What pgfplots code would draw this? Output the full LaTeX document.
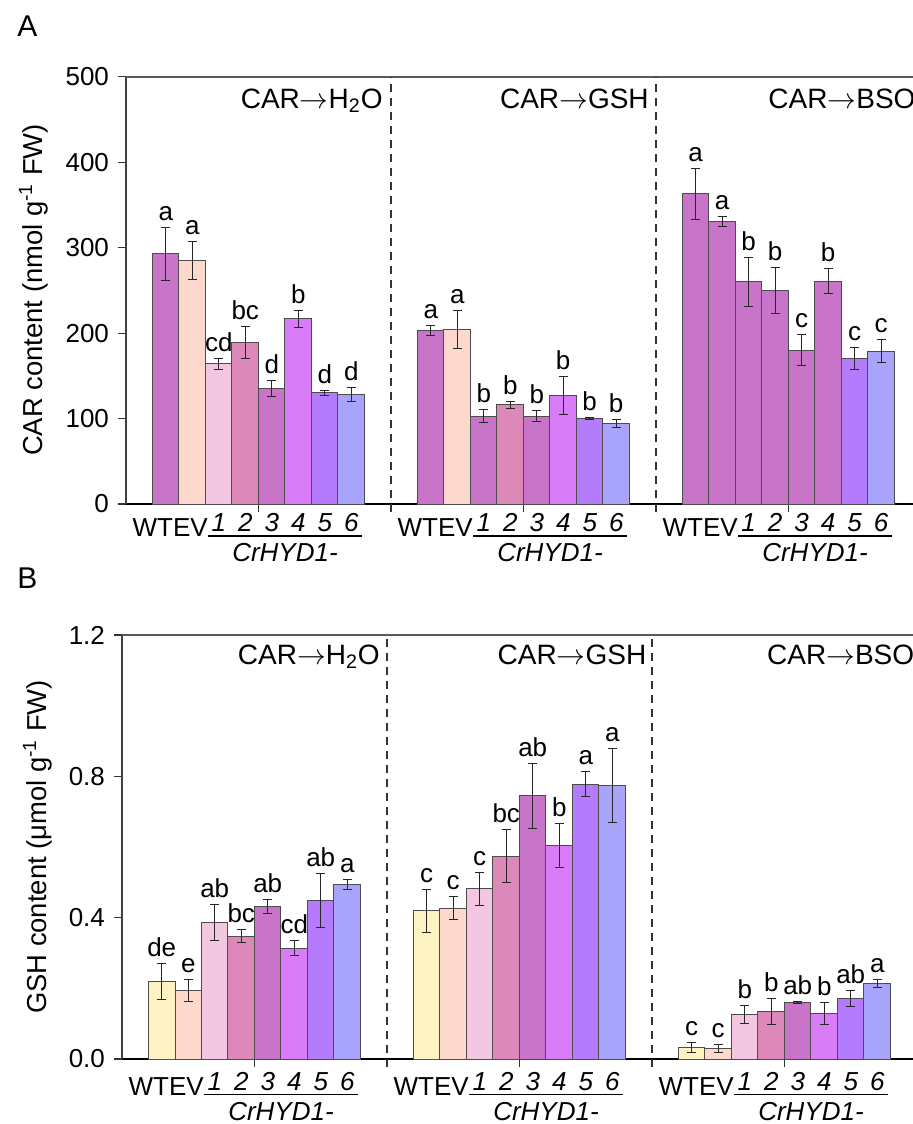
\documentclass[border=0pt]{standalone}
\usepackage{fontspec}
\setmainfont{Liberation Sans}
\usepackage{pgfplots}
\pgfplotsset{compat=1.18}

\definecolor{orchid}{HTML}{C874C8}
\definecolor{peach} {HTML}{FDD8CC}
\definecolor{lpink} {HTML}{F3C6E1}
\definecolor{mauve} {HTML}{DC88B8}
\definecolor{violet}{HTML}{D87CF8}
\definecolor{purp}  {HTML}{B47CFC}
\definecolor{peri}  {HTML}{A8A4FC}
\definecolor{yel}   {HTML}{FDF3C2}

\def\u{13.25pt}% one bar slot
\newcommand\arr{\ensuremath{\rightarrow}}
\newcommand\grp{\fontsize{14}{16.8}\selectfont}

\pgfplotsset{
  panel/.style={
    scale only axis, clip=false,
    anchor=south west, xmin=0, ymin=0,
    axis x line*=bottom, axis y line*=left,
    axis line style={-},
    x axis line style={line width=1.1pt, black},
    y axis line style={line width=0.7pt, black!75},
    tick align=outside, major tick length=4pt,
    tick style={black!80, line width=0.6pt},
    xtick={5,15,25}, xticklabels={},
    /pgf/number format/assume math mode=true,
  },
  bstyle/.style={ybar, bar width=1, bar shift=0pt,
    fill=#1, draw=black!70, line width=0.5pt,
    error bars/y dir=both, error bars/y explicit,
    error bars/error bar style={line width=0.5pt, black!85},
    error bars/error mark options={rotate=90, mark size=2.3pt, line width=0.5pt, black!85}},
}

% significance letter above an error bar
\newcommand\lab[3]{\node[anchor=base, yshift=3.5pt] at (axis cs:#1,#2) {#3};}

% genotype labels under one group; #1 = group start, #2 = extra drop
\newcommand\catlabels[2]{%
  \node[inner sep=0pt, anchor=base east, xshift=3.1*\u, yshift=-16.35pt-#2] at (axis cs:#1,0) {WTEV};
  \node[anchor=base, xshift=3.5*\u, yshift=-13.85pt-#2] at (axis cs:#1,0) {\itshape 1};
  \node[anchor=base, xshift=4.5*\u, yshift=-13.85pt-#2] at (axis cs:#1,0) {\itshape 2};
  \node[anchor=base, xshift=5.5*\u, yshift=-13.85pt-#2] at (axis cs:#1,0) {\itshape 3};
  \node[anchor=base, xshift=6.5*\u, yshift=-13.85pt-#2] at (axis cs:#1,0) {\itshape 4};
  \node[anchor=base, xshift=7.5*\u, yshift=-13.85pt-#2] at (axis cs:#1,0) {\itshape 5};
  \node[anchor=base, xshift=8.5*\u, yshift=-13.85pt-#2] at (axis cs:#1,0) {\itshape 6};
  \draw[line width=0.6pt] ([xshift=3.1*\u, yshift=-16pt-#2]axis cs:#1,0) -- ([xshift=8.9*\u, yshift=-16pt-#2]axis cs:#1,0);
  \node[anchor=base, xshift=6*\u, yshift=-28.85pt-#2] at (axis cs:#1,0) {\itshape CrHYD1-};
}

\begin{document}
\fontsize{13}{15.6}\selectfont
\begin{tikzpicture}
\useasboundingbox (0,0) rectangle (456.5pt,-562pt);

\node[inner sep=0pt, anchor=base west, font=\fontsize{15}{18}\selectfont] at (8.5pt,-18.3pt) {A};
\node[inner sep=0pt, anchor=base west, font=\fontsize{15}{18}\selectfont] at (8.5pt,-294.3pt) {B};
\node[rotate=90, font=\fontsize{13.7}{16}\selectfont] at (16.75pt,-145pt) {CAR content (nmol g\textsuperscript{-1} FW)};
\node[rotate=90, font=\fontsize{13.7}{16}\selectfont] at (18.75pt,-423.5pt) {GSH content (μmol g\textsuperscript{-1} FW)};

% ---------------- panel A
\begin{axis}[panel, at={(63pt,-252pt)}, width=393.5pt, height=213.6pt,
  xmax=29.70, ymax=500, ytick={0,100,...,500}]
  \addplot[bstyle=orchid] coordinates {
    (1.5,293) +- (0,31)  (5.5,135) +- (0,9)
    (11.5,203) +- (0,6) (13.5,103) +- (0,8) (15.5,103) +- (0,7)
    (21.5,363) +- (0,30) (22.5,331) +- (0,6) (23.5,260) +- (0,29)
    (24.5,250) +- (0,27) (25.5,180) +- (0,18) (26.5,261) +- (0,15)};
  \addplot[bstyle=peach] coordinates {(2.5,285) +- (0,22) (12.5,204) +- (0,22)};
  \addplot[bstyle=lpink] coordinates {(3.5,164) +- (0,6)};
  \addplot[bstyle=mauve] coordinates {(4.5,189) +- (0,19) (14.5,116) +- (0,4)};
  \addplot[bstyle=violet] coordinates {(6.5,217) +- (0,10) (16.5,127) +- (0,22)};
  \addplot[bstyle=purp] coordinates {(7.5,130) +- (0,3) (17.5,100) +- (0,1) (27.5,170) +- (0,13)};
  \addplot[bstyle=peri] coordinates {(8.5,128) +- (0,8) (18.5,94) +- (0,5) (28.5,179) +- (0,13)};

  \lab{1.5}{324}{a}\lab{2.5}{307}{a}\lab{3.5}{170}{cd}\lab{4.5}{208}{bc}
  \lab{5.5}{144}{d}\lab{6.5}{227}{b}\lab{7.5}{133}{d}\lab{8.5}{136}{d}
  \lab{11.5}{209}{a}\lab{12.5}{226}{a}\lab{13.5}{111}{b}\lab{14.5}{120}{b}
  \lab{15.5}{110}{b}\lab{16.5}{149}{b}\lab{17.5}{101}{b}\lab{18.5}{99}{b}
  \lab{21.5}{393}{a}\lab{22.5}{337}{a}\lab{23.5}{289}{b}\lab{24.5}{277}{b}
  \lab{25.5}{198}{c}\lab{26.5}{276}{b}\lab{27.5}{183}{c}\lab{28.5}{192}{c}

  \draw[black!65, line width=0.7pt] (rel axis cs:0,1) -- (rel axis cs:1,1);
  \draw[black!80, line width=0.6pt, dash pattern=on 4pt off 3pt] ([yshift=-4pt]axis cs:10,0) -- (axis cs:10,500);
  \draw[black!80, line width=0.6pt, dash pattern=on 4pt off 3pt] ([yshift=-4pt]axis cs:20,0) -- (axis cs:20,500);

  \node[inner sep=0pt, anchor=base east, font=\grp] at (axis cs:9.7,463) {CAR\arr H\textsubscript{2}O};
  \node[inner sep=0pt, anchor=base east, font=\grp] at (axis cs:19.74,463) {CAR\arr GSH};
  \node[inner sep=0pt, anchor=base west, font=\grp] at (axis cs:24.23,463) {CAR\arr BSO};

  \catlabels{0}{0pt}\catlabels{10}{0pt}\catlabels{20}{0pt}
\end{axis}

% ---------------- panel B
\begin{axis}[panel, at={(61pt,-529.5pt)}, width=395.5pt, height=212pt,
  xmax=29.85, ymax=1.2, ytick={0,0.4,0.8,1.2},
  yticklabel style={/pgf/number format/.cd, fixed, fixed zerofill, precision=1}]
  \addplot[bstyle=yel] coordinates {(1.5,0.219) +- (0,0.051) (11.5,0.419) +- (0,0.061) (21.5,0.032) +- (0,0.014)};
  \addplot[bstyle=peach] coordinates {(2.5,0.194) +- (0,0.030) (12.5,0.427) +- (0,0.032) (22.5,0.030) +- (0,0.011)};
  \addplot[bstyle=lpink] coordinates {(3.5,0.386) +- (0,0.051) (13.5,0.482) +- (0,0.047) (23.5,0.126) +- (0,0.025)};
  \addplot[bstyle=mauve] coordinates {(4.5,0.348) +- (0,0.018) (14.5,0.574) +- (0,0.075) (24.5,0.135) +- (0,0.036)};
  \addplot[bstyle=orchid] coordinates {(5.5,0.431) +- (0,0.020) (15.5,0.745) +- (0,0.092) (25.5,0.161) +- (0,0.003)};
  \addplot[bstyle=violet] coordinates {(6.5,0.314) +- (0,0.021) (16.5,0.604) +- (0,0.063) (26.5,0.129) +- (0,0.030)};
  \addplot[bstyle=purp] coordinates {(7.5,0.449) +- (0,0.077) (17.5,0.778) +- (0,0.035) (27.5,0.171) +- (0,0.023)};
  \addplot[bstyle=peri] coordinates {(8.5,0.494) +- (0,0.014) (18.5,0.774) +- (0,0.105) (28.5,0.213) +- (0,0.011)};

  \lab{1.5}{0.270}{de}\lab{2.5}{0.224}{e}\lab{3.5}{0.437}{ab}\lab{4.5}{0.366}{bc}
  \lab{5.5}{0.451}{ab}\lab{6.5}{0.335}{cd}\lab{7.5}{0.526}{ab}\lab{8.5}{0.508}{a}
  \lab{11.5}{0.480}{c}\lab{12.5}{0.459}{c}\lab{13.5}{0.529}{c}\lab{14.5}{0.649}{bc}
  \lab{15.5}{0.837}{ab}\lab{16.5}{0.667}{b}\lab{17.5}{0.813}{a}\lab{18.5}{0.879}{a}
  \lab{21.5}{0.046}{c}\lab{22.5}{0.041}{c}\lab{23.5}{0.151}{b}\lab{24.5}{0.171}{b}
  \lab{25.5}{0.164}{ab}\lab{26.5}{0.159}{b}\lab{27.5}{0.194}{ab}\lab{28.5}{0.224}{a}

  \draw[black!65, line width=0.7pt] (rel axis cs:0,1) -- (rel axis cs:1,1);
  \draw[black!80, line width=0.6pt, dash pattern=on 4pt off 3pt] ([yshift=-4pt]axis cs:10,0) -- (axis cs:10,1.2);
  \draw[black!80, line width=0.6pt, dash pattern=on 4pt off 3pt] ([yshift=-4pt]axis cs:20,0) -- (axis cs:20,1.2);

  \node[inner sep=0pt, anchor=base east, font=\grp] at (axis cs:9.74,1.117) {CAR\arr H\textsubscript{2}O};
  \node[inner sep=0pt, anchor=base east, font=\grp] at (axis cs:19.8,1.117) {CAR\arr GSH};
  \node[inner sep=0pt, anchor=base west, font=\grp] at (axis cs:24.33,1.117) {CAR\arr BSO};

  \catlabels{0}{1.8pt}\catlabels{10}{1.8pt}\catlabels{20}{1.8pt}
\end{axis}
\end{tikzpicture}
\end{document}
